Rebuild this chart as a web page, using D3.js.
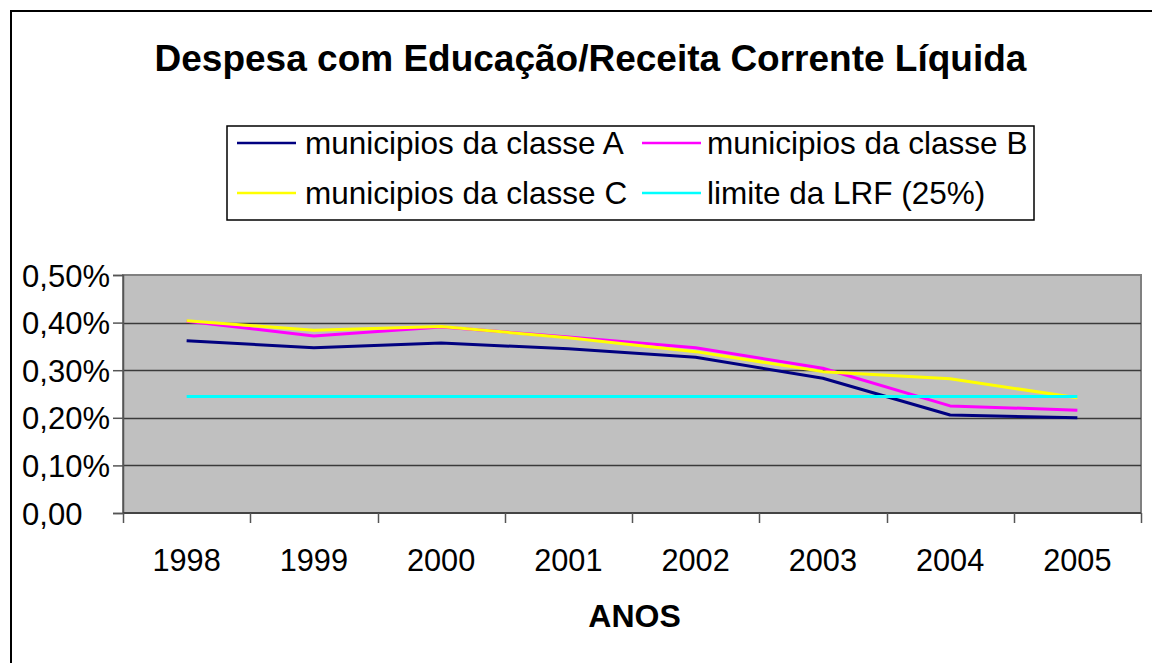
<!DOCTYPE html>
<html>
<head>
<meta charset="utf-8">
<script src="https://cdn.jsdelivr.net/npm/d3@7/dist/d3.min.js"></script>
<style>
  html, body { margin: 0; padding: 0; background: #fff; }
  svg { display: block; font-family: "Liberation Sans", Arial, sans-serif; }
</style>
</head>
<body>
<svg id="chart" width="1152" height="663"></svg>
<script>
// ---- data ----
const years = ["1998", "1999", "2000", "2001", "2002", "2003", "2004", "2005"];
const classeA = [0.362, 0.347, 0.357, 0.345, 0.327, 0.283, 0.206, 0.200];
const classeB = [0.403, 0.372, 0.391, 0.370, 0.347, 0.304, 0.225, 0.216];
const classeC = [0.404, 0.384, 0.392, 0.368, 0.339, 0.297, 0.282, 0.242];
const limiteLRF = [0.245, 0.245, 0.245, 0.245, 0.245, 0.245, 0.245, 0.245];
const seriesNames = ["municipios da classe A", "municipios da classe B", "municipios da classe C", "limite da LRF (25%)"];
const seriesColors = ["#000080", "#FF00FF", "#FFFF00", "#00FFFF"];
const yTicks = [0, 0.1, 0.2, 0.3, 0.4, 0.5];
const yTickLabels = ["0,00", "0,10%", "0,20%", "0,30%", "0,40%", "0,50%"];
const titleText = "Despesa com Educação/Receita Corrente Líquida";
const xAxisTitle = "ANOS";

const seriesData = [classeA, classeB, classeC, limiteLRF];

// ---- layout ----
const svg = d3.select("#chart");
const plot = { left: 123, right: 1141, top: 275, bottom: 513 };

// outer chart border (clipped by the window on right and bottom)
svg.append("rect")
  .attr("x", 11).attr("y", 11)
  .attr("width", 1160).attr("height", 670)
  .attr("fill", "#fff").attr("stroke", "#000").attr("stroke-width", 2);

// title
svg.append("text")
  .attr("x", 590.5).attr("y", 71)
  .attr("text-anchor", "middle")
  .attr("font-size", 37).attr("font-weight", "bold")
  .attr("fill", "#000")
  .text(titleText);

// scales
const x = d3.scaleBand().domain(years).range([plot.left, plot.right]).padding(0);
const y = d3.scaleLinear().domain([0, 0.5]).range([plot.bottom, plot.top]);

// plot area background
svg.append("rect")
  .attr("x", plot.left).attr("y", plot.top)
  .attr("width", plot.right - plot.left).attr("height", plot.bottom - plot.top)
  .attr("fill", "#C0C0C0")
  .attr("stroke", "#808080").attr("stroke-width", 2);

// gridlines
svg.append("g").selectAll("line")
  .data(yTicks.filter(d => d > 0 && d < 0.5))
  .join("line")
  .attr("x1", plot.left).attr("x2", plot.right)
  .attr("y1", d => Math.round(y(d)) + 0.5).attr("y2", d => Math.round(y(d)) + 0.5)
  .attr("stroke", "#3a3a3a").attr("stroke-width", 1.5);

// y axis
const yAxis = d3.axisLeft(y)
  .tickValues(yTicks)
  .tickSize(10).tickPadding(3)
  .tickFormat((d, i) => yTickLabels[i]);
const gy = svg.append("g").attr("transform", `translate(${plot.left},0)`).call(yAxis);
gy.select(".domain").attr("stroke", "#555").attr("stroke-width", 1.5);
gy.selectAll(".tick line").attr("stroke", "#555").attr("stroke-width", 1.5);
gy.selectAll(".tick text")
  .attr("font-size", 31).attr("fill", "#000")
  .attr("font-family", "Liberation Sans, Arial, sans-serif")
  .attr("dy", "0.36em")
  .attr("dx", (d, i) => yTickLabels[i].endsWith("%") ? 0 : "-0.889em");

// x axis (ticks at category boundaries)
svg.append("line")
  .attr("x1", plot.left).attr("x2", plot.right)
  .attr("y1", plot.bottom).attr("y2", plot.bottom)
  .attr("stroke", "#444").attr("stroke-width", 2);
const boundaries = years.map(d => x(d)).concat([x(years[years.length - 1]) + x.bandwidth()]);
svg.append("g").selectAll("line")
  .data(boundaries)
  .join("line")
  .attr("x1", d => Math.round(d) + 0.5).attr("x2", d => Math.round(d) + 0.5)
  .attr("y1", plot.bottom).attr("y2", plot.bottom + 10)
  .attr("stroke", "#555").attr("stroke-width", 1.5);
svg.append("g").selectAll("text")
  .data(years)
  .join("text")
  .attr("x", d => x(d) + x.bandwidth() / 2)
  .attr("y", 571)
  .attr("text-anchor", "middle")
  .attr("font-size", 30.7).attr("fill", "#000")
  .text(d => d);

// x axis title
svg.append("text")
  .attr("x", 634.5).attr("y", 627)
  .attr("text-anchor", "middle")
  .attr("font-size", 32).attr("font-weight", "bold")
  .text(xAxisTitle);

// series lines
const line = d3.line()
  .x((d, i) => x(years[i]) + x.bandwidth() / 2)
  .y(d => y(d));
svg.append("g").selectAll("path")
  .data(seriesData)
  .join("path")
  .attr("d", d => line(d))
  .attr("fill", "none")
  .attr("stroke", (d, i) => seriesColors[i])
  .attr("stroke-width", 3)
  .attr("stroke-linejoin", "round");

// legend
svg.append("rect")
  .attr("x", 227).attr("y", 126)
  .attr("width", 807).attr("height", 94)
  .attr("fill", "#fff").attr("stroke", "#000").attr("stroke-width", 1.5);
const legendPos = [
  { lx: 237, tx: 305, ly: 143, ty: 154 },
  { lx: 642, tx: 707, ly: 143, ty: 154 },
  { lx: 237, tx: 305, ly: 193, ty: 204 },
  { lx: 642, tx: 707, ly: 193, ty: 204 }
];
const lg = svg.append("g").selectAll("g")
  .data(seriesNames)
  .join("g");
lg.append("line")
  .attr("x1", (d, i) => legendPos[i].lx).attr("x2", (d, i) => legendPos[i].lx + 59)
  .attr("y1", (d, i) => legendPos[i].ly).attr("y2", (d, i) => legendPos[i].ly)
  .attr("stroke", (d, i) => seriesColors[i]).attr("stroke-width", 2.5);
lg.append("text")
  .attr("x", (d, i) => legendPos[i].tx).attr("y", (d, i) => legendPos[i].ty)
  .attr("font-size", 31.5).attr("fill", "#000")
  .text(d => d);
</script>
</body>
</html>
